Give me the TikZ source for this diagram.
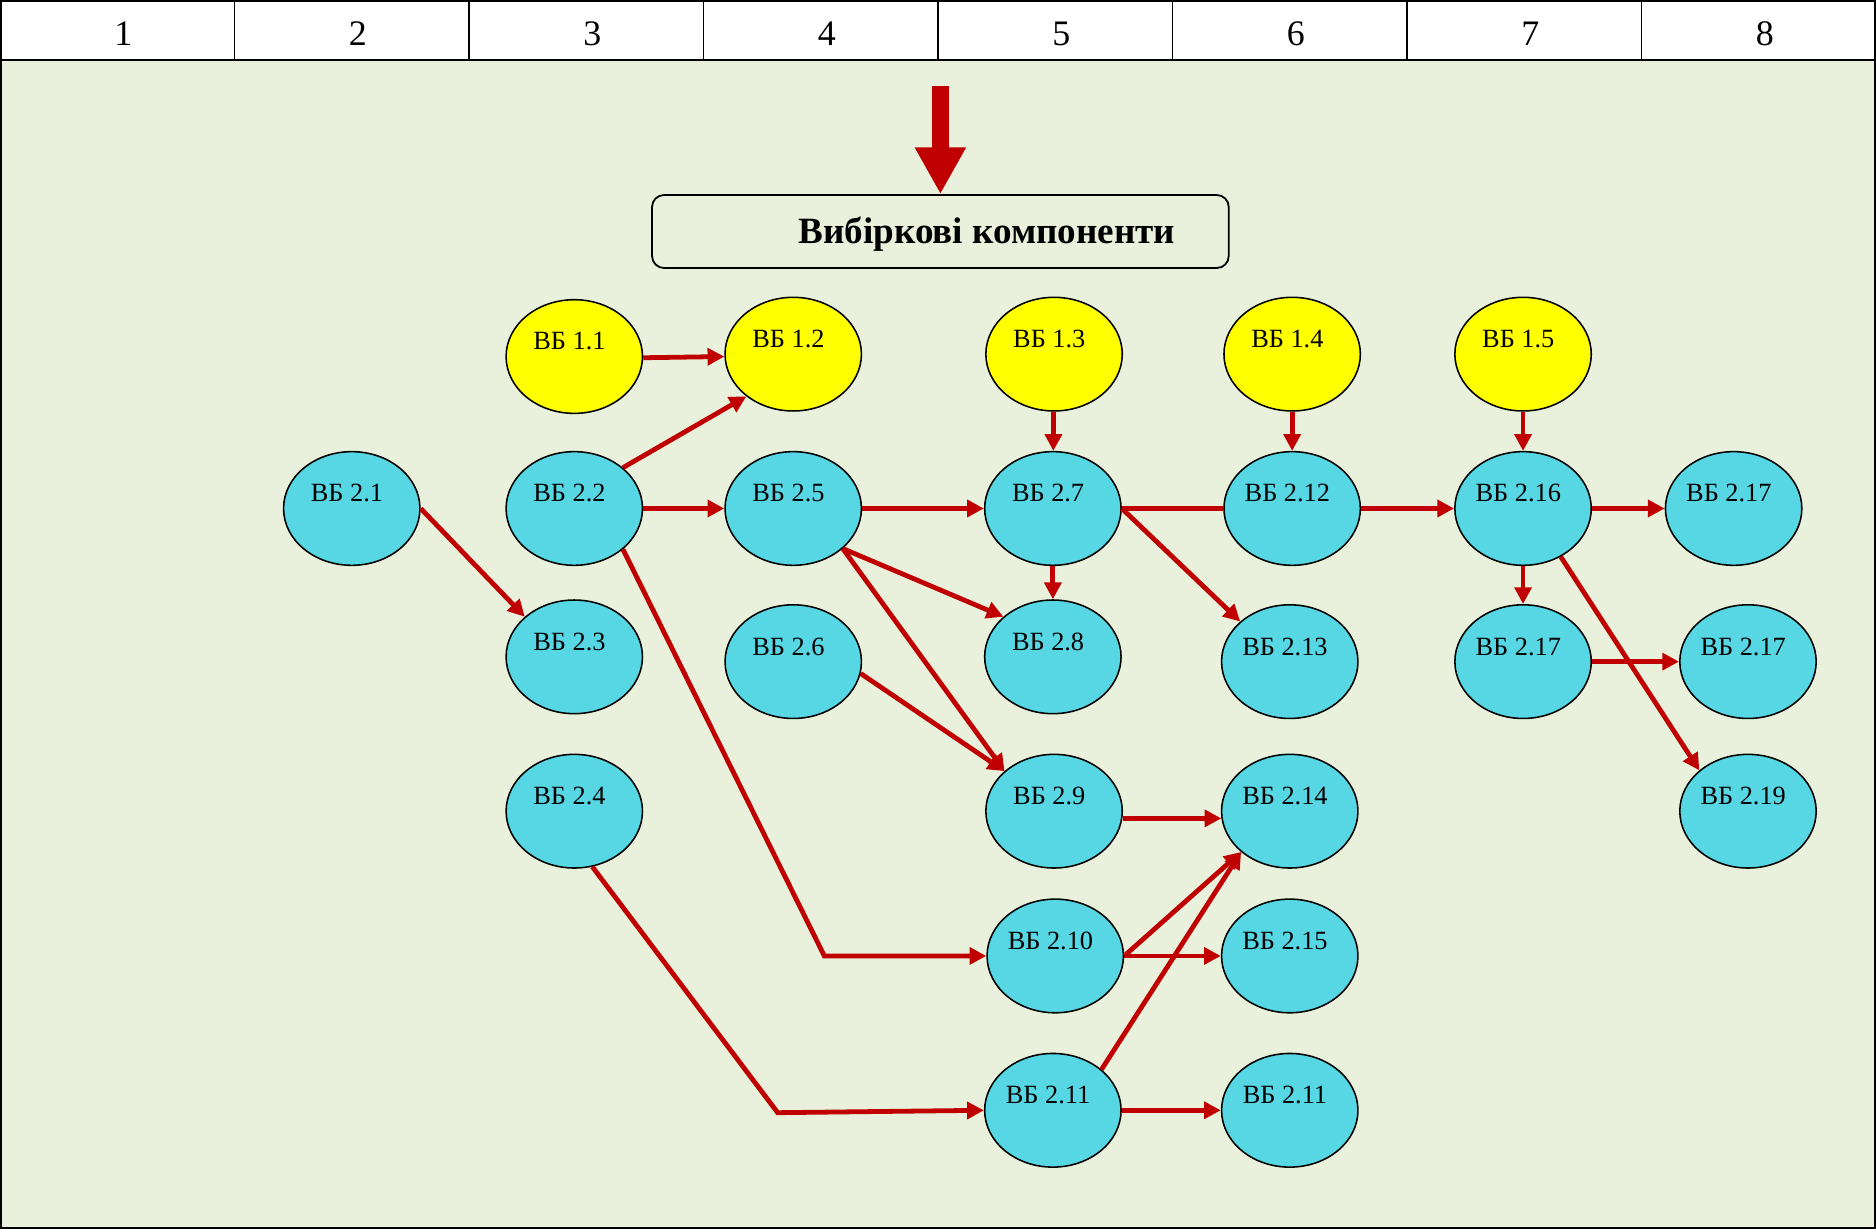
\documentclass[tikz,border=0pt]{standalone}
\usepackage{fontspec}
\setmainfont{Liberation Serif}
\usetikzlibrary{arrows.meta,shapes.geometric}
\definecolor{bg}{RGB}{233,241,221}
\definecolor{cy}{RGB}{87,214,228}
\definecolor{ye}{RGB}{255,255,0}
\definecolor{rd}{RGB}{192,0,0}
\begin{document}
\begin{tikzpicture}[x=1pt,y=-1pt,
 vb/.style={ellipse,draw=black,line width=1.3pt,minimum width=114pt,minimum height=95pt,inner sep=0pt,
   text height=15pt,text depth=26pt,font=\fontsize{22}{26}\selectfont,execute at end node={\hspace*{8pt}}},
 cyn/.style={vb,fill=cy},
 yel/.style={vb,fill=ye},
 conn/.style={draw=rd,line width=4pt,-{Triangle[length=14pt,width=14pt]}},
 plainline/.style={draw=rd,line width=4pt},
 hdr/.style={draw=black,line width=1.5pt,fill=white,minimum width=196pt,minimum height=50pt,inner sep=0pt,
   text height=26pt,text depth=0pt,font=\fontsize{30}{34}\selectfont,execute at begin node={\hspace*{10pt}}}
]
\useasboundingbox (0,0) rectangle (1568,1027);
\fill[bg] (0,50) rectangle (1568,1027);
\foreach \i in {1,...,8} \node[hdr] (h\i) at ({196*(\i-1)+98},25) {\i};

% title and big arrow
\node[draw=black,line width=1.5pt,rounded corners=10pt,minimum width=482pt,minimum height=61pt,inner sep=0pt,
  text height=20pt,text depth=0pt,font=\bfseries\fontsize{31}{36}\selectfont] (title) at (786,193.5)
  {\hspace*{78pt}Вибіркові компоненти};
\coordinate (atop) at (786,72);
\draw[draw=rd,line width=14pt,-{Triangle[length=39pt,width=40pt]}] (atop) -- (title.north);

% nodes
\node[yel] (n11) at (480,298) {ВБ 1.1};
\node[yel] (n12) at (663,296) {ВБ 1.2};
\node[yel] (n13) at (881,296) {ВБ 1.3};
\node[yel] (n14) at (1080,296) {ВБ 1.4};
\node[yel] (n15) at (1273,296) {ВБ 1.5};
\node[cyn] (n21) at (294,425) {ВБ 2.1};
\node[cyn] (n22) at (480,425) {ВБ 2.2};
\node[cyn] (n25) at (663,425) {ВБ 2.5};
\node[cyn] (n27) at (880,425) {ВБ 2.7};
\node[cyn] (n212) at (1080,425) {ВБ 2.12};
\node[cyn] (n216) at (1273,425) {ВБ 2.16};
\node[cyn] (n217a) at (1449,425) {ВБ 2.17};
\node[cyn] (n23) at (480,549) {ВБ 2.3};
\node[cyn] (n26) at (663,553) {ВБ 2.6};
\node[cyn] (n28) at (880,549) {ВБ 2.8};
\node[cyn] (n213) at (1078,553) {ВБ 2.13};
\node[cyn] (n217b) at (1273,553) {ВБ 2.17};
\node[cyn] (n217c) at (1461,553) {ВБ 2.17};
\node[cyn] (n24) at (480,678) {ВБ 2.4};
\node[cyn] (n29) at (881,678) {ВБ 2.9};
\node[cyn] (n214) at (1078,678) {ВБ 2.14};
\node[cyn] (n219) at (1461,678) {ВБ 2.19};
\node[cyn] (n210) at (882,799) {ВБ 2.10};
\node[cyn] (n215) at (1078,799) {ВБ 2.15};
\node[cyn] (n211) at (880,928) {ВБ 2.11};
\node[cyn] (n211b) at (1078,928) {ВБ 2.11};

% connectors
\coordinate (c1) at (689,799);
\coordinate (c2) at (650,930);
\draw[conn] (n11.-1) -- (n12.-178);
\draw[conn] (n22.40) -- (n12.-138);
\draw[conn] (n22) -- (n25);
\draw[conn] (n21.east) -- (n23.141);
\draw[conn] (n22.-40) -- (c1) -- (n210);
\draw[conn] (n24.-72) -- (c2) -- (n211.west);
\draw[conn] (n25) -- (n27);
\draw[conn] (n25.-39) -- (n28.141);
\draw[conn] (n25.-39) -- (n29.141);
\draw[conn] (n26.-10) -- (n29.141);
\draw[conn] (n13) -- (n27);
\draw[conn] (n27) -- (n28);
\draw[plainline] (n27) -- (n212);
\draw[conn] (n27.east) -- (n213.141);
\draw[conn] (n14) -- (n212);
\draw[conn] (n212) -- (n216);
\draw[conn] (n15) -- (n216);
\draw[conn] (n216) -- (n217a);
\draw[conn] (n216) -- (n217b);
\draw[conn] (n216.-52) -- (n219.140);
\draw[conn] (n217b) -- (n217c);
\draw[conn] (n29.-6) -- (n214.-174);
\draw[conn] (n210.east) -- (n214.-140);
\draw[conn] (n210) -- (n215);
\draw[conn] (n211.40) -- (n214.-140);
\draw[conn] (n211) -- (n211b);

\draw[line width=3pt] (0,0) rectangle (1568,1027);
\end{tikzpicture}
\end{document}
